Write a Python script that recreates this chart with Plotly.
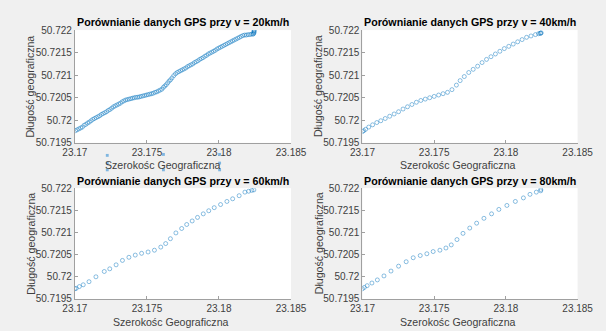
import plotly.graph_objects as go

# ---------------- data ----------------
lon20 = [23.17004, 23.17016, 23.17028, 23.17040, 23.17052, 23.17064, 23.17076, 23.17088, 23.17100, 23.17112,
         23.17124, 23.17136, 23.17148, 23.17160, 23.17172, 23.17184, 23.17196, 23.17208, 23.17220, 23.17232,
         23.17244, 23.17256, 23.17268, 23.17280, 23.17292, 23.17304, 23.17316, 23.17328, 23.17340, 23.17352,
         23.17364, 23.17376, 23.17388, 23.17400, 23.17412, 23.17424, 23.17436, 23.17448, 23.17460, 23.17472,
         23.17484, 23.17496, 23.17508, 23.17520, 23.17532, 23.17544, 23.17556, 23.17568, 23.17580, 23.17592,
         23.17604, 23.17614, 23.17624, 23.17634, 23.17644, 23.17654, 23.17664, 23.17674, 23.17686, 23.17698,
         23.17710, 23.17722, 23.17734, 23.17746, 23.17758, 23.17770, 23.17782, 23.17794, 23.17806, 23.17818,
         23.17830, 23.17842, 23.17854, 23.17866, 23.17878, 23.17890, 23.17902, 23.17914, 23.17926, 23.17938,
         23.17950, 23.17962, 23.17974, 23.17986, 23.17998, 23.18010, 23.18022, 23.18034, 23.18046, 23.18058,
         23.18070, 23.18082, 23.18094, 23.18106, 23.18118, 23.18130, 23.18142, 23.18154, 23.18166, 23.18178,
         23.18190, 23.18202, 23.18214, 23.18226, 23.18236, 23.18240, 23.18243, 23.18243, 23.18244, 23.18244]
lat20 = [50.71977, 50.71979, 50.71981, 50.71983, 50.71985, 50.71989, 50.71991, 50.71994, 50.71996, 50.71999,
         50.72002, 50.72004, 50.72006, 50.72008, 50.72010, 50.72013, 50.72015, 50.72017, 50.72019, 50.72022,
         50.72024, 50.72027, 50.72030, 50.72032, 50.72034, 50.72036, 50.72038, 50.72041, 50.72043, 50.72045,
         50.72046, 50.72047, 50.72048, 50.72049, 50.72050, 50.72051, 50.72051, 50.72052, 50.72053, 50.72054,
         50.72055, 50.72056, 50.72057, 50.72058, 50.72059, 50.72060, 50.72062, 50.72063, 50.72065, 50.72067,
         50.72069, 50.72073, 50.72076, 50.72079, 50.72083, 50.72087, 50.72090, 50.72094, 50.72099, 50.72103,
         50.72106, 50.72108, 50.72110, 50.72112, 50.72114, 50.72116, 50.72119, 50.72121, 50.72123, 50.72125,
         50.72128, 50.72130, 50.72132, 50.72135, 50.72137, 50.72139, 50.72142, 50.72144, 50.72147, 50.72149,
         50.72151, 50.72153, 50.72155, 50.72158, 50.72160, 50.72162, 50.72164, 50.72166, 50.72168, 50.72170,
         50.72172, 50.72174, 50.72176, 50.72178, 50.72180, 50.72182, 50.72184, 50.72186, 50.72188, 50.72189,
         50.72189, 50.72190, 50.72190, 50.72191, 50.72191, 50.72192, 50.72194, 50.72196, 50.72198, 50.72200]

lon40 = [23.17000, 23.17009, 23.17022, 23.17044, 23.17071, 23.17100, 23.17128, 23.17159, 23.17190, 23.17221,
         23.17252, 23.17283, 23.17314, 23.17345, 23.17376, 23.17407, 23.17438, 23.17469, 23.17500, 23.17531,
         23.17562, 23.17593, 23.17624, 23.17655, 23.17681, 23.17710, 23.17741, 23.17772, 23.17803, 23.17834,
         23.17865, 23.17896, 23.17927, 23.17958, 23.17989, 23.18020, 23.18051, 23.18082, 23.18113, 23.18144,
         23.18175, 23.18206, 23.18228, 23.18239, 23.18243, 23.18246]
lat40 = [50.71975, 50.71977, 50.71980, 50.71985, 50.71990, 50.71995, 50.71999, 50.72004, 50.72009, 50.72014,
         50.72019, 50.72025, 50.72030, 50.72035, 50.72040, 50.72044, 50.72047, 50.72050, 50.72053, 50.72056,
         50.72059, 50.72062, 50.72068, 50.72078, 50.72088, 50.72097, 50.72106, 50.72113, 50.72120, 50.72128,
         50.72135, 50.72141, 50.72147, 50.72153, 50.72159, 50.72164, 50.72169, 50.72174, 50.72179, 50.72184,
         50.72187, 50.72190, 50.72192, 50.72193, 50.72193, 50.72194]

lon60 = [23.17000, 23.17009, 23.17031, 23.17058, 23.17098, 23.17146, 23.17204, 23.17242, 23.17286, 23.17330,
         23.17375, 23.17419, 23.17463, 23.17508, 23.17552, 23.17596, 23.17630, 23.17663, 23.17701, 23.17741,
         23.17776, 23.17814, 23.17851, 23.17891, 23.17929, 23.17967, 23.18011, 23.18055, 23.18095, 23.18140,
         23.18180, 23.18206, 23.18228, 23.18242]
lat60 = [50.71973, 50.71974, 50.71978, 50.71982, 50.71989, 50.72000, 50.72012, 50.72018, 50.72027, 50.72037,
         50.72044, 50.72049, 50.72053, 50.72056, 50.72060, 50.72067, 50.72075, 50.72086, 50.72099, 50.72109,
         50.72118, 50.72126, 50.72134, 50.72142, 50.72149, 50.72156, 50.72163, 50.72170, 50.72176, 50.72183,
         50.72191, 50.72193, 50.72195, 50.72196]

lon80 = [23.17000, 23.17013, 23.17033, 23.17066, 23.17104, 23.17150, 23.17199, 23.17252, 23.17305, 23.17354,
         23.17403, 23.17449, 23.17493, 23.17540, 23.17582, 23.17619, 23.17659, 23.17701, 23.17748, 23.17796,
         23.17847, 23.17900, 23.17951, 23.18007, 23.18066, 23.18122, 23.18168, 23.18212, 23.18243, 23.18243]
lat80 = [50.71973, 50.71976, 50.71980, 50.71986, 50.71993, 50.72002, 50.72013, 50.72024, 50.72034, 50.72043,
         50.72048, 50.72052, 50.72057, 50.72060, 50.72065, 50.72072, 50.72084, 50.72098, 50.72110, 50.72121,
         50.72132, 50.72142, 50.72152, 50.72161, 50.72170, 50.72178, 50.72186, 50.72191, 50.72194, 50.72197]

titles = ["Porównianie danych GPS przy v = 20km/h", "Porównianie danych GPS przy v = 40km/h",
          "Porównianie danych GPS przy v = 60km/h", "Porównianie danych GPS przy v = 80km/h"]
xlabel = "Szerokośc Geograficzna"
ylabel = "Długość geograficzna"
xtickvals = [23.17, 23.175, 23.18, 23.185]
xticktext = ["23.17", "23.175", "23.18", "23.185"]
ytickvals = [50.7195, 50.72, 50.7205, 50.721, 50.7215, 50.722]
yticktext = ["50.7195", "50.72", "50.7205", "50.721", "50.7215", "50.722"]

series = [(lon20, lat20), (lon40, lat40), (lon60, lat60), (lon80, lat80)]

# ---------------- layout ----------------
W, H = 606, 331
FONT = "Liberation Sans"
xdoms = [[65 / W, 292 / W], [367 / W, 593 / W]]
ydoms = [[1 - 142 / H, 1 - 25 / H], [1 - 304 / H, 1 - 189 / H]]
title_y = [1 - 17 / H, 1 - 182 / H]
xlab_y = [1 - 164.5 / H, 1 - 327.5 / H]
xlab_x = [158 / W, 467 / W, 166 / W, 467 / W]
ylab_x = [18 / W, 321 / W]

fig = go.Figure()
layout = dict(
    width=W, height=H, margin=dict(l=0, r=0, t=0, b=0),
    paper_bgcolor="#F0F0F0", plot_bgcolor="#FFFFFF",
    showlegend=False, font=dict(family=FONT, size=10, color="#404040"),
    annotations=[], shapes=[],
)

for i, (lon, lat) in enumerate(series):
    r, c = divmod(i, 2)
    n = i + 1
    xa = "x" if n == 1 else f"x{n}"
    ya = "y" if n == 1 else f"y{n}"
    fig.add_trace(go.Scatter(
        x=lon, y=lat, mode="markers", xaxis=xa, yaxis=ya,
        marker=dict(symbol="circle-open", size=4, color="rgba(0,114,189,0.5)",
                    line=dict(width=0.9, color="rgba(0,114,189,0.5)")),
    ))
    axcommon = dict(showgrid=False, zeroline=False, showline=True, linecolor="#a0a0a0", linewidth=1,
                    ticks="inside", ticklen=3, tickcolor="#a0a0a0", mirror=False,
                    tickfont=dict(family=FONT, size=10, color="#404040"))
    layout["xaxis" if n == 1 else f"xaxis{n}"] = dict(
        domain=xdoms[c], anchor=ya, range=[23.17, 23.185],
        tickmode="array", tickvals=xtickvals, ticktext=xticktext, **axcommon)
    layout["yaxis" if n == 1 else f"yaxis{n}"] = dict(
        domain=ydoms[r], anchor=xa, range=[50.7195, 50.722],
        tickmode="array", tickvals=ytickvals, ticktext=yticktext, **axcommon)
    xc = (xdoms[c][0] + xdoms[c][1]) / 2
    layout["annotations"] += [
        dict(text=f"<b>{titles[i]}</b>", x=xc, y=title_y[r], xref="paper", yref="paper",
             xanchor="center", yanchor="middle", showarrow=False,
             font=dict(family=FONT, size=10.7, color="#000000")),
        dict(text=xlabel, x=xlab_x[i], y=xlab_y[r], xref="paper", yref="paper",
             xanchor="center", yanchor="middle", showarrow=False,
             font=dict(family=FONT, size=10.6, color="#404040")),
        dict(text=ylabel, x=ylab_x[c], y=(ydoms[r][0] + ydoms[r][1]) / 2, xref="paper", yref="paper",
             xanchor="center", yanchor="middle", showarrow=False, textangle=-90,
             font=dict(family=FONT, size=10.6, color="#404040")),
    ]

# selection handles around the first x-label (as seen in the source screenshot)
for hx, hy in [(99, 155), (158, 154), (217, 154), (99, 163), (217, 163), (99, 170), (158, 170), (217, 170)]:
    layout["shapes"].append(dict(type="rect", xref="paper", yref="paper",
                                 x0=(hx - 1.5) / W, x1=(hx + 1.5) / W, y0=1 - (hy + 1.5) / H, y1=1 - (hy - 1.5) / H,
                                 fillcolor="#7fb6e0", line=dict(width=0)))

fig.update_layout(**layout)
fig.write_html("out.html")
